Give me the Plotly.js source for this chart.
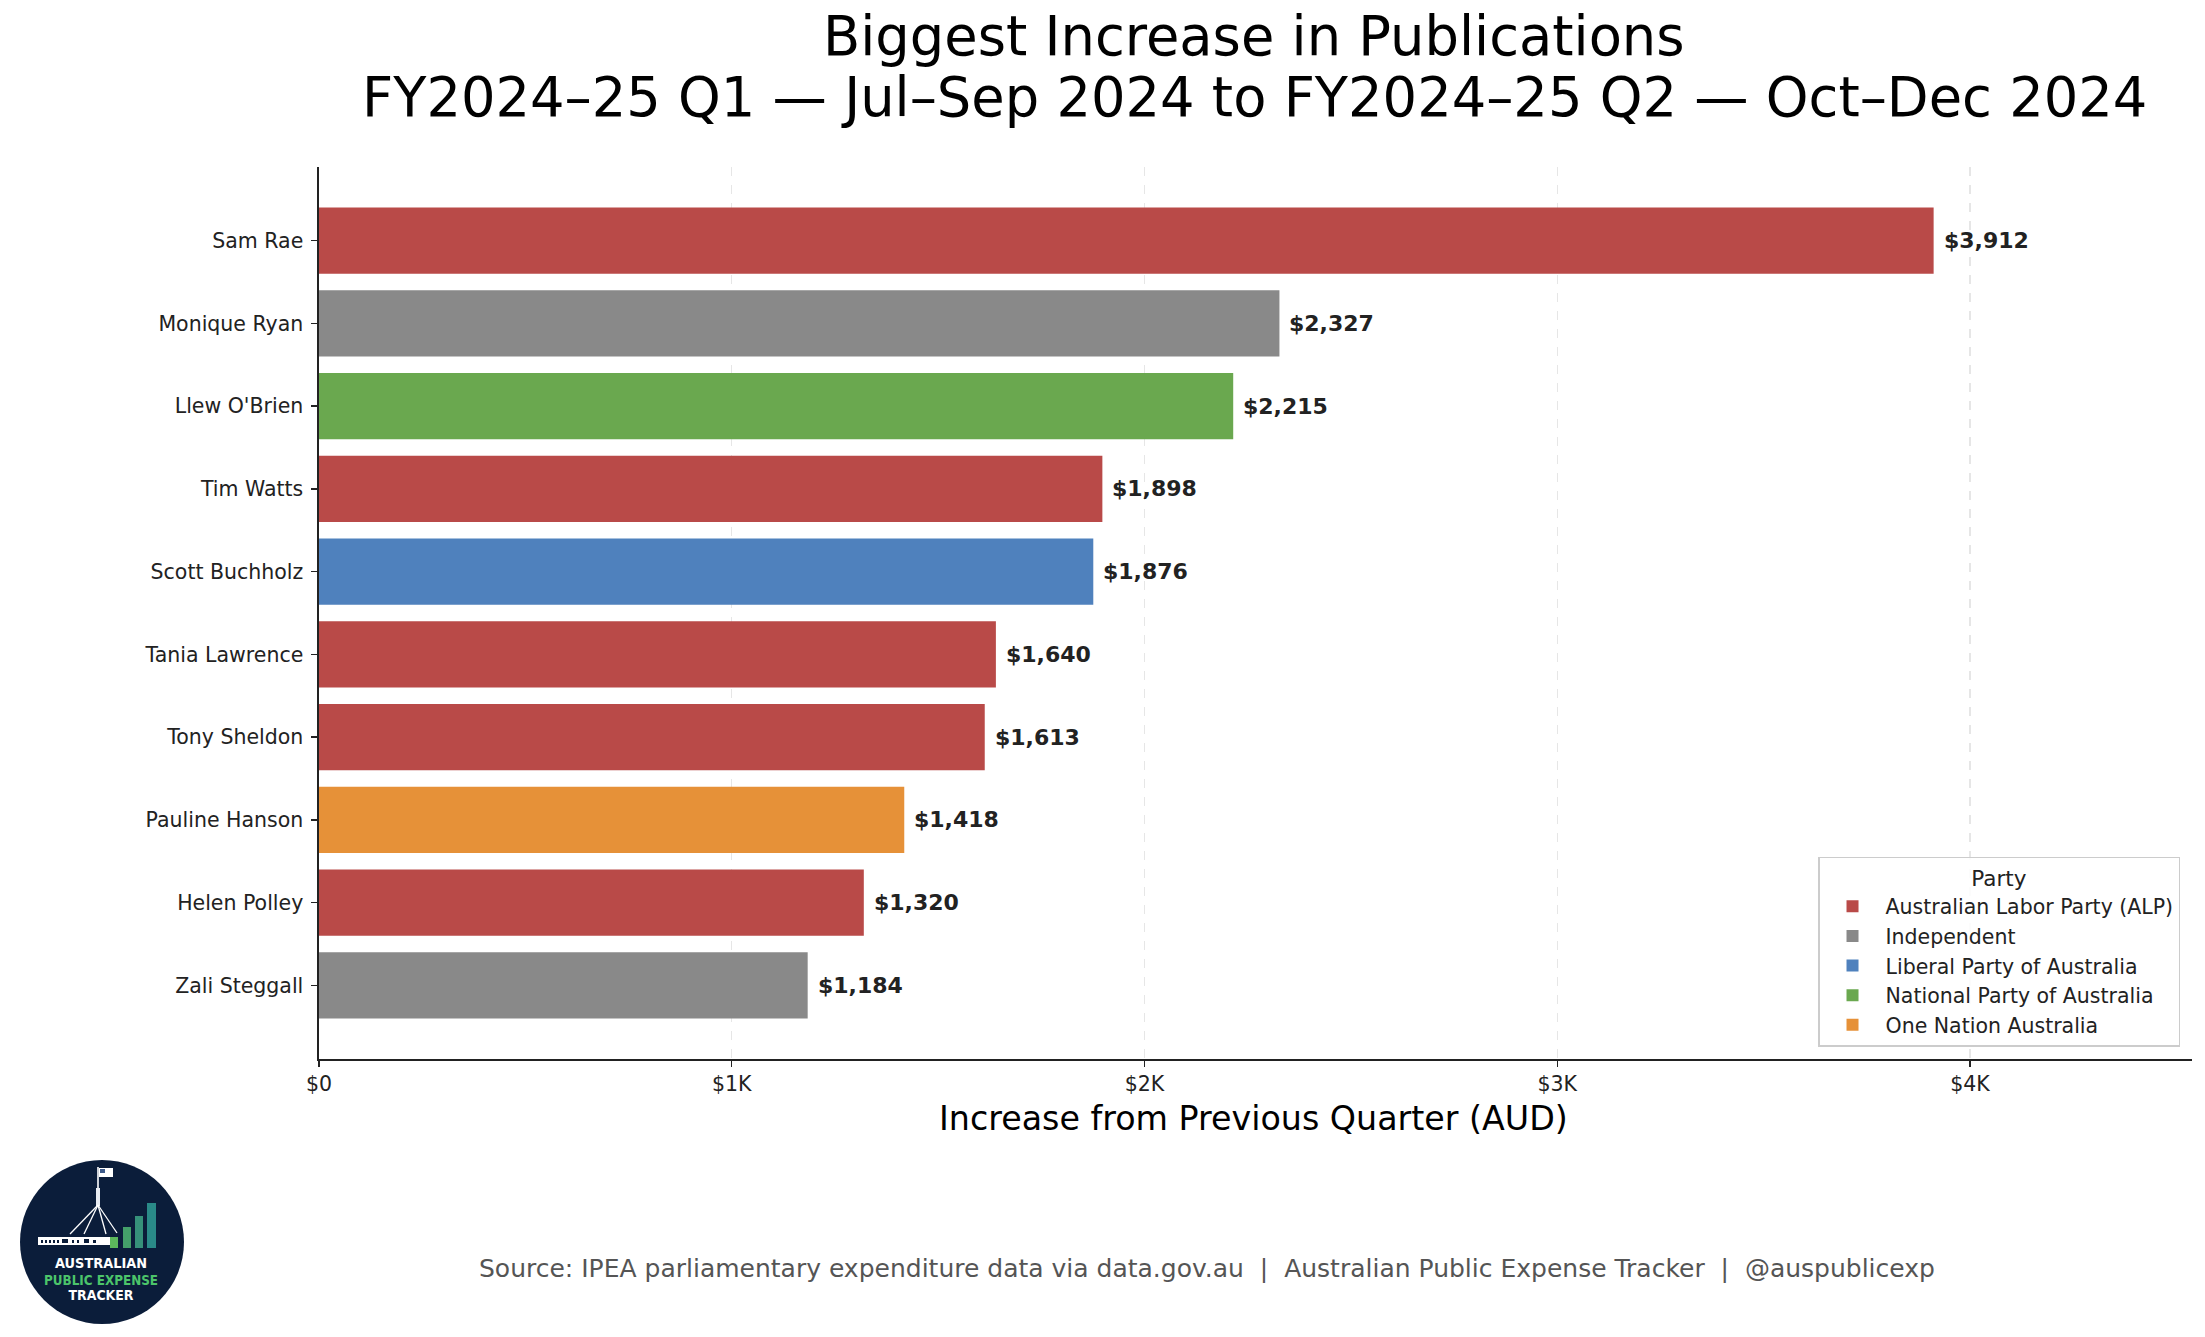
<!DOCTYPE html>
<html>
<head>
<meta charset="utf-8">
<script src="https://cdn.plot.ly/plotly-3.0.1.min.js"></script>
<style>
  html, body { margin: 0; padding: 0; background: #fff; }
  #wrap { position: relative; width: 2205px; height: 1337px; }
  #chart { position: absolute; left: 0; top: 0; width: 2205px; height: 1337px; }
  #logo { position: absolute; left: 0; top: 0; pointer-events: none; }
</style>
</head>
<body>
<div id="wrap">
  <div id="chart"></div>
  <!-- tracker logo, bottom-left -->
  <svg id="logo" width="2205" height="1337" xmlns="http://www.w3.org/2000/svg">
    <circle cx="102" cy="1242" r="82" fill="#0b1d3a"/>
    <line x1="98" y1="1167" x2="98" y2="1206" stroke="#fff" stroke-width="1.6"/>
    <rect x="96" y="1188" width="4" height="18" fill="#e8ecf2"/>
    <rect x="99" y="1168" width="14" height="9" fill="#fff"/>
    <rect x="100" y="1169" width="5" height="4" fill="#3d5a8a"/>
    <g stroke="#fff" stroke-width="1.3">
      <line x1="98" y1="1205" x2="70" y2="1234"/>
      <line x1="98" y1="1205" x2="84" y2="1234"/>
      <line x1="98" y1="1205" x2="106" y2="1234"/>
      <line x1="98" y1="1205" x2="117" y2="1233"/>
    </g>
    <rect x="38" y="1237" width="72" height="8" fill="#fff"/>
    <g fill="#0b1d3a">
      <rect x="41" y="1240" width="2" height="3"/><rect x="45" y="1240" width="2" height="3"/>
      <rect x="49" y="1240" width="2" height="3"/><rect x="53" y="1240" width="2" height="3"/>
      <rect x="57" y="1240" width="2" height="3"/><rect x="62" y="1239" width="6" height="4"/>
      <rect x="72" y="1240" width="2" height="3"/><rect x="77" y="1240" width="2" height="3"/>
      <rect x="84" y="1239" width="5" height="4"/><rect x="93" y="1240" width="3" height="3"/>
    </g>
    <rect x="110" y="1237" width="8" height="11" fill="#5cb85c"/>
    <rect x="123" y="1227" width="8" height="21" fill="#44a06a"/>
    <rect x="135" y="1216" width="8" height="32" fill="#36917a"/>
    <rect x="147" y="1203" width="9" height="45" fill="#2a8a88"/>
    <g font-family="DejaVu Sans, sans-serif" font-weight="bold" font-size="14.5" text-anchor="middle">
      <text x="101" y="1268" fill="#fff" textLength="92" lengthAdjust="spacingAndGlyphs">AUSTRALIAN</text>
      <text x="101" y="1285" fill="#4cc46a" textLength="114" lengthAdjust="spacingAndGlyphs">PUBLIC EXPENSE</text>
      <text x="101" y="1300" fill="#fff" textLength="65" lengthAdjust="spacingAndGlyphs">TRACKER</text>
    </g>
  </svg>
</div>
<script>
// Biggest quarter-on-quarter increase in publications spend, top 10 members.
const names = ["Sam Rae", "Monique Ryan", "Llew O'Brien", "Tim Watts", "Scott Buchholz",
               "Tania Lawrence", "Tony Sheldon", "Pauline Hanson", "Helen Polley", "Zali Steggall"];
const increases = [3912, 2327, 2215, 1898, 1876, 1640, 1613, 1418, 1320, 1184];
const memberParty = ["Australian Labor Party (ALP)", "Independent", "National Party of Australia",
                     "Australian Labor Party (ALP)", "Liberal Party of Australia",
                     "Australian Labor Party (ALP)", "Australian Labor Party (ALP)",
                     "One Nation Australia", "Australian Labor Party (ALP)", "Independent"];
const parties = ["Australian Labor Party (ALP)", "Independent", "Liberal Party of Australia",
                 "National Party of Australia", "One Nation Australia"];
const partyColors = ["#b94a48", "#898989", "#4f81bd", "#6aa84f", "#e69138"];
const xTickVals = [0, 1000, 2000, 3000, 4000];
const xTickText = ["$0", "$1K", "$2K", "$3K", "$4K"];

const FONT = "DejaVu Sans, Verdana, sans-serif";
const INK = "#222222";

// one trace per party so the legend reads by party
const traces = parties.map((p, i) => {
  const idx = names.map((_, k) => k).filter(k => memberParty[k] === p);
  return {
    type: "bar", orientation: "h", name: p,
    y: idx.map(k => names[k]),
    x: idx.map(k => increases[k]),
    width: 0.8,
    marker: { color: partyColors[i], opacity: 1, line: { width: 0 } },
    hoverinfo: "skip",
  };
});

const fmt = v => "$" + v.toLocaleString("en-US");

// value labels at the end of each bar
const valueLabels = names.map((n, k) => ({
  x: increases[k], y: n, xref: "x", yref: "y",
  text: "<b>" + fmt(increases[k]) + "</b>",
  showarrow: false, xanchor: "left", yanchor: "middle", xshift: 8,
  font: { family: FONT, size: 22, color: INK },
}));

const plotL = 319, plotR = 2192, plotT = 167, plotB = 1059;
const plotH = plotB - plotT, plotW = plotR - plotL;
const py = pix => (plotB - pix) / plotH;     // pixel row -> paper y
const px = pix => (pix - plotL) / plotW;     // pixel col -> paper x

const textAnn = [
  { text: "Biggest Increase in Publications", x: px(1254), y: py(37), size: 54.3, color: "#000" },
  { text: "FY2024–25 Q1 — Jul–Sep 2024 to FY2024–25 Q2 — Oct–Dec 2024", x: px(1254), y: py(98), size: 54.3, color: "#000" },
  { text: "Increase from Previous Quarter (AUD)", x: px(1253), y: py(1118), size: 33.3, color: "#000" },
  { text: "Source: IPEA parliamentary expenditure data via data.gov.au  |  Australian Public Expense Tracker  |  @auspublicexp",
    x: px(1207), y: py(1268), size: 25, color: "#555555" },
].map(a => ({
  text: a.text, x: a.x, y: a.y, xref: "paper", yref: "paper",
  showarrow: false, xanchor: "center", yanchor: "middle",
  font: { family: FONT, size: a.size, color: a.color },
}));

const layout = {
  width: 2205, height: 1337,
  margin: { l: plotL, r: 2205 - plotR, t: plotT, b: 1337 - plotB, pad: 0 },
  paper_bgcolor: "#fff", plot_bgcolor: "#fff",
  font: { family: FONT, size: 20.5, color: INK },
  barmode: "overlay",
  showlegend: true,
  hovermode: false,
  xaxis: {
    range: [0, 4538], automargin: false,
    tickvals: xTickVals, ticktext: xTickText,
    ticks: "outside", ticklen: 6, tickwidth: 1.3, tickcolor: INK,
    ticklabelstandoff: 0,
    tickfont: { family: FONT, size: 20.5, color: INK },
    showline: true, linecolor: INK, linewidth: 1.6,
    showgrid: true, gridcolor: "#e6e6e6", griddash: "dash", gridwidth: 1.2,
    zeroline: false, fixedrange: true,
  },
  yaxis: {
    type: "category", categoryorder: "array", categoryarray: names,
    range: [9.89, -0.89], automargin: false,
    ticks: "outside", ticklen: 6, tickwidth: 1.3, tickcolor: INK,
    ticklabelstandoff: 4,
    tickfont: { family: FONT, size: 20.5, color: INK },
    showline: true, linecolor: INK, linewidth: 1.6,
    showgrid: false, zeroline: false, fixedrange: true,
  },
  legend: {
    x: 0.9936, xanchor: "right", y: 0.0135, yanchor: "bottom",
    bgcolor: "rgba(255,255,255,0.85)", bordercolor: "#cccccc", borderwidth: 1.5,
    font: { family: FONT, size: 20.5, color: INK },
    title: { text: "Party", side: "top center", font: { family: FONT, size: 21.5, color: INK } },
    itemwidth: 56,
    traceorder: "normal", itemclick: false, itemdoubleclick: false,
  },
  annotations: valueLabels.concat(textAnn),
};

Plotly.newPlot("chart", traces, layout, { displayModeBar: false, staticPlot: true });
</script>
</body>
</html>
